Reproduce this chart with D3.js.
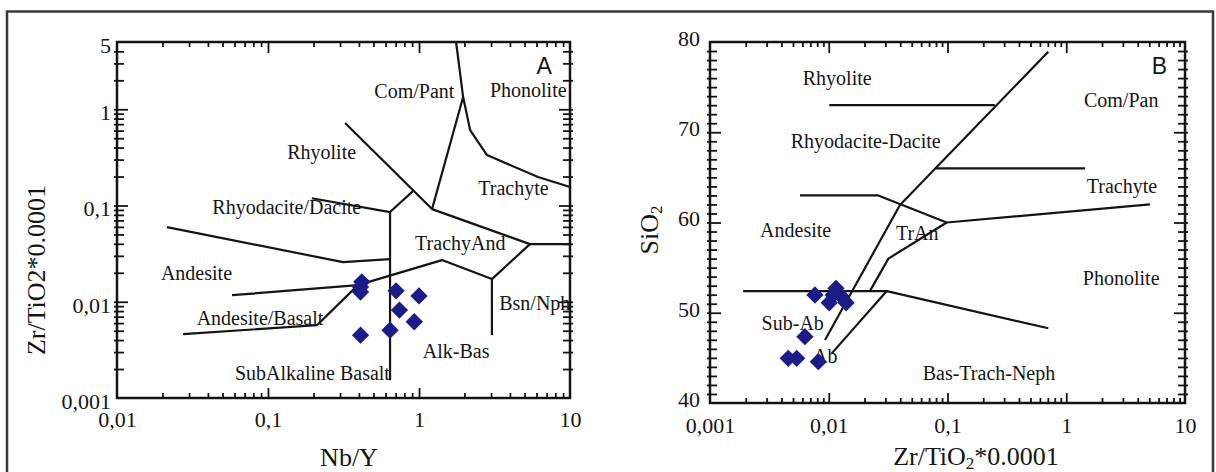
<!DOCTYPE html>
<html>
<head>
<meta charset="utf-8">
<script src="https://cdn.jsdelivr.net/npm/d3@7"></script>
<style>
  html, body { margin: 0; padding: 0; background: #fff; }
  svg { display: block; }
  text { font-family: "Liberation Serif", "Times New Roman", serif; fill: #151515; }
</style>
</head>
<body>
<svg id="chart" width="1216" height="472"></svg>
<script>
// ---- Panel A: Nb/Y vs Zr/TiO2*0.0001 (log-log) ----
const nbY      = [0.418, 0.41, 0.41, 0.705, 1.0, 0.742, 0.93, 0.643, 0.41];
const zrTiO2A  = [0.0161, 0.0142, 0.0126, 0.0130, 0.0115, 0.0082, 0.0062, 0.00507, 0.0045];

const ticksAx  = [0.01, 0.1, 1, 10];
const labelsAx = ["0,01", "0,1", "1", "10"];
const ticksAy  = [0.001, 0.01, 0.1, 1, 5];
const labelsAy = ["0,001", "0,01", "0,1", "1", "5"];

// field boundaries, [Nb/Y, Zr/TiO2]
const fieldLinesA = [
  [[1.76, 5], [1.96, 1.34]],
  [[1.96, 1.34], [1.22, 0.0918]],
  [[1.96, 1.34], [2.18, 0.608], [2.82, 0.334], [6.14, 0.198], [10, 0.156]],
  [[0.324, 0.72], [1.22, 0.0918], [5.43, 0.0397], [10, 0.0397]],
  [[0.195, 0.119], [0.643, 0.0855], [0.912, 0.141]],
  [[0.643, 0.0855], [0.643, 0.00153]],
  [[0.0214, 0.0597], [0.314, 0.0258], [0.643, 0.0277]],
  [[0.0578, 0.0117], [0.394, 0.0149], [1.42, 0.0271], [3.04, 0.0172], [5.43, 0.0397]],
  [[3.04, 0.0172], [3.04, 0.0045]],
  [[0.0274, 0.00461], [0.211, 0.00571], [0.394, 0.0149]]
];
const fieldNamesA = ["Com/Pant", "Phonolite", "Rhyolite", "Trachyte", "Rhyodacite/Dacite", "TrachyAnd",
                     "Andesite", "Andesite/Basalt", "SubAlkaline Basalt", "Alk-Bas", "Bsn/Nph"];
const fieldAtA = [[0.506, 1.30], [2.95, 1.35], [0.134, 0.302], [2.47, 0.1285], [0.0428, 0.0815], [0.942, 0.0344],
                  [0.01954, 0.0168], [0.0337, 0.0058], [0.0604, 0.00153], [1.06, 0.00258], [3.40, 0.00819]];

// ---- Panel B: Zr/TiO2*0.0001 vs SiO2 ----
const zrTiO2B = [0.00765, 0.0115, 0.0109, 0.01285, 0.0101, 0.0140, 0.0063, 0.00456, 0.00537, 0.00817];
const sio2    = [51.97, 52.71, 51.97, 51.78, 51.11, 51.11, 47.35, 44.95, 44.95, 44.58];

const ticksBx  = [0.001, 0.01, 0.1, 1, 10];
const labelsBx = ["0,001", "0,01", "0,1", "1", "10"];
const ticksBy  = [40, 50, 60, 70, 80];

// field boundaries, [Zr/TiO2, SiO2]
const fieldLinesB = [
  [[0.0101, 73], [0.25, 73]],
  [[0.706, 78.93], [0.0398, 61.94], [0.0093, 46.98]],
  [[0.00573, 63], [0.0261, 63], [0.0984, 60], [5.07, 62]],
  [[0.08, 66], [1.44, 66]],
  [[0.0984, 60], [0.0318, 56], [0.0222, 52.4]],
  [[0.0019, 52.4], [0.0308, 52.4], [0.706, 48.28]],
  [[0.0308, 52.4], [0.0106, 45.5]]
];
const fieldNamesB = ["Rhyolite", "Rhyodacite-Dacite", "Com/Pan", "Trachyte", "Andesite", "TrAn",
                     "Phonolite", "Sub-Ab", "Ab", "Bas-Trach-Neph"];
const fieldAtB = [[0.00604, 75.24], [0.00479, 68.22], [1.41, 72.83], [1.49, 63.24], [0.00264, 58.4],
                  [0.0368, 58.06], [1.38, 53.07], [0.00272, 48.09], [0.00736, 44.43], [0.0618, 42.55]];

// ---- drawing ----
const svg = d3.select("#chart");
const INK = "#141414";
const DOT = "#1c1c88";

// outer frame around both panels
svg.append("rect")
  .attr("x", 7).attr("y", 11.5).attr("width", 1206).attr("height", 480)
  .attr("fill", "none").attr("stroke", "#3a3a3a").attr("stroke-width", 2.5);

function logMinor(lo, hi) {
  const out = [];
  for (let e = Math.floor(Math.log10(lo)); e <= Math.ceil(Math.log10(hi)); e++) {
    for (let k = 2; k <= 9; k++) {
      const v = k * Math.pow(10, e);
      if (v > lo * 1.0001 && v < hi * 0.9999) out.push(v);
    }
  }
  return out;
}

function tickRow(g, gen, vals, size, tx, ty) {
  g.append("g")
    .attr("transform", `translate(${tx},${ty})`)
    .call(gen.tickValues(vals).tickSize(size).tickFormat(""))
    .call(s => s.select(".domain").remove())
    .selectAll("line").attr("stroke", INK).attr("stroke-width", 1.8);
}

function drawPanel(o) {
  const g = svg.append("g");
  const { x, y } = o;
  const [xl, xr] = x.range();
  const [yb, yt] = y.range();

  // ticks on all four sides
  tickRow(g, d3.axisBottom(x), o.xMinor, -5, 0, yb);
  tickRow(g, d3.axisBottom(x), o.xMajor, -10, 0, yb);
  tickRow(g, d3.axisTop(x), o.xMinor, -5, 0, yt);
  tickRow(g, d3.axisTop(x), o.xMajor, -11, 0, yt);
  tickRow(g, d3.axisLeft(y), o.yMinor, -7, xl, 0);
  tickRow(g, d3.axisLeft(y), o.yMinor, 3, xl, 0);
  tickRow(g, d3.axisLeft(y), o.yMajor, -11, xl, 0);
  tickRow(g, d3.axisLeft(y), o.yMajor, 3, xl, 0);
  tickRow(g, d3.axisRight(y), o.yMinor, -7, xr, 0);
  tickRow(g, d3.axisRight(y), o.yMinor, 3, xr, 0);
  tickRow(g, d3.axisRight(y), o.yMajor, -11, xr, 0);
  tickRow(g, d3.axisRight(y), o.yMajor, 3, xr, 0);

  // tick labels
  const xAx = g.append("g").attr("transform", `translate(0,${yb})`)
    .call(d3.axisBottom(x).tickValues(o.xTicks).tickSize(0).tickFormat((d, i) => o.xLabels[i]));
  xAx.select(".domain").remove();
  xAx.attr("font-family", null).attr("font-size", null);
  xAx.selectAll("text").attr("y", o.xLabelDrop).attr("dy", 0)
    .style("font-size", "22px").attr("fill", "#151515");

  const yAx = g.append("g").attr("transform", `translate(${xl},0)`)
    .call(d3.axisLeft(y).tickValues(o.yTicks).tickSize(0).tickFormat((d, i) => o.yLabels[i]));
  yAx.select(".domain").remove();
  yAx.attr("font-family", null).attr("font-size", null);
  yAx.selectAll("text").attr("x", -o.yLabelGap).attr("y", o.yLabelShift).attr("dy", "0.33em")
    .style("font-size", "22px").attr("fill", "#151515");

  // field boundaries
  const line = d3.line().x(d => x(d[0])).y(d => y(d[1]));
  g.append("g").selectAll("path").data(o.lines).join("path")
    .attr("d", line).attr("fill", "none").attr("stroke", INK)
    .attr("stroke-width", 2.2).attr("stroke-linejoin", "round");

  // field names
  g.append("g").selectAll("text").data(o.names).join("text")
    .attr("x", (d, i) => x(o.at[i][0])).attr("y", (d, i) => y(o.at[i][1]))
    .style("font-size", "20px").text(d => d);

  // samples
  g.append("g").selectAll("path").data(o.px).join("path")
    .attr("transform", (d, i) => `translate(${x(d)},${y(o.py[i])}) rotate(45)`)
    .attr("d", d3.symbol(d3.symbolSquare, 150)())
    .attr("fill", DOT);

  // plot frame
  g.append("rect").attr("x", xl).attr("y", yt).attr("width", xr - xl).attr("height", yb - yt)
    .attr("fill", "none").attr("stroke", INK).attr("stroke-width", 2.5);

  // panel letter
  g.append("text").attr("x", x(o.letterAt[0])).attr("y", y(o.letterAt[1]))
    .style("font-family", '"Liberation Sans", Arial, sans-serif').style("font-size", "23px")
    .text(o.letter);
  return g;
}

const xA = d3.scaleLog().domain([0.01, 10]).range([117, 570]);
const yA = d3.scaleLog().domain([0.001, 5]).range([398, 42]);
const gA = drawPanel({
  x: xA, y: yA,
  xMinor: logMinor(0.01, 10), xMajor: [0.1, 1],
  yMinor: logMinor(0.001, 5), yMajor: [0.01, 0.1, 1],
  xTicks: ticksAx, xLabels: labelsAx, xLabelDrop: 29,
  yTicks: ticksAy, yLabels: labelsAy, yLabelGap: 6, yLabelShift: 3,
  lines: fieldLinesA, names: fieldNamesA, at: fieldAtA,
  px: nbY, py: zrTiO2A, letter: "A", letterAt: [6.0, 2.33]
});

const xB = d3.scaleLog().domain([0.001, 10]).range([710, 1185]);
const yB = d3.scaleLinear().domain([40, 80]).range([403, 42]);
const gB = drawPanel({
  x: xB, y: yB,
  xMinor: logMinor(0.001, 10), xMajor: [0.01, 0.1, 1],
  yMinor: d3.range(41, 80).filter(v => v % 10 !== 0), yMajor: [50, 60, 70],
  xTicks: ticksBx, xLabels: labelsBx, xLabelDrop: 30,
  yTicks: ticksBy, yLabels: ticksBy.map(String), yLabelGap: 10, yLabelShift: -4,
  lines: fieldLinesB, names: fieldNamesB, at: fieldAtB,
  px: zrTiO2B, py: sio2, letter: "B", letterAt: [5.25, 76.45]
});

// axis titles
gA.append("text").attr("x", 349).attr("y", 466).attr("text-anchor", "middle")
  .style("font-size", "26px").text("Nb/Y");
gA.append("text").attr("transform", "translate(45,270) rotate(-90)").attr("text-anchor", "middle")
  .style("font-size", "26px").text("Zr/TiO2*0.0001");

const tB = gB.append("text").attr("x", 976).attr("y", 465).attr("text-anchor", "middle")
  .style("font-size", "26px");
tB.append("tspan").text("Zr/TiO");
tB.append("tspan").attr("dy", 4).style("font-size", "17px").text("2");
tB.append("tspan").attr("dy", -4).text("*0.0001");

const sB = gB.append("text").attr("transform", "translate(658,230) rotate(-90)").attr("text-anchor", "middle")
  .style("font-size", "26px");
sB.append("tspan").text("SiO");
sB.append("tspan").attr("dy", 4).style("font-size", "17px").text("2");
</script>
</body>
</html>
